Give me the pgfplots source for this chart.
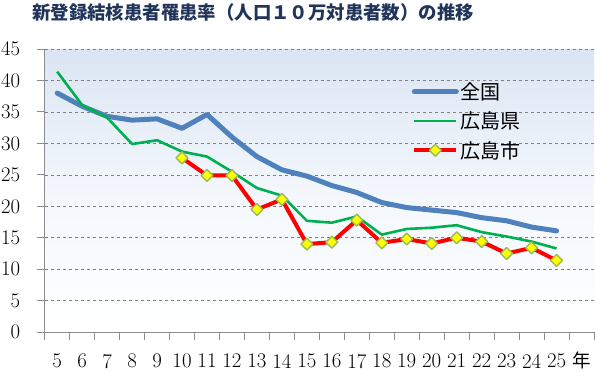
\documentclass[border=0pt]{standalone}
\usepackage{fontspec}
\usepackage{pgfplots}
\pgfplotsset{compat=1.18}
\newfontfamily\jpfont{Noto Sans CJK JP}
\definecolor{cblue}{RGB}{79,129,189}
\definecolor{cgreen}{RGB}{0,176,80}
\definecolor{cred}{RGB}{255,0,0}
\definecolor{cyellow}{RGB}{255,255,0}
\definecolor{cmark}{RGB}{155,187,89}
\definecolor{ctitle}{RGB}{33,52,90}
\definecolor{bgtop}{RGB}{219,229,243}
\definecolor{bgmid}{RGB}{243,247,252}
\pgfplotstableread{
x y
0 38.0
1 35.9
2 34.3
3 33.7
4 33.9
5 32.4
6 34.6
7 31.0
8 27.9
9 25.8
10 24.8
11 23.3
12 22.2
13 20.6
14 19.8
15 19.4
16 19.0
17 18.2
18 17.7
19 16.7
20 16.1
}\zenkoku
\pgfplotstableread{
x y
0 41.4
1 36.1
2 34.1
3 29.9
4 30.5
5 28.7
6 27.9
7 25.5
8 22.9
9 21.7
10 17.7
11 17.4
12 18.4
13 15.5
14 16.4
15 16.6
16 17.0
17 15.9
18 15.2
19 14.4
20 13.3
}\ken
\pgfplotstableread{
x y
5 27.7
6 24.9
7 24.9
8 19.5
9 21.1
10 14.0
11 14.3
12 17.8
13 14.2
14 14.8
15 14.1
16 15.0
17 14.4
18 12.5
19 13.4
20 11.4
}\shi
\begin{document}
\begin{tikzpicture}
\begin{axis}[
  scale only axis, width=549pt, height=283pt,
  xmin=-0.5, xmax=21.5, ymin=0, ymax=45,
  ytick={0,5,...,45},
  xtick={-0.5,0.5,...,21.5}, xticklabels={},
  extra x ticks={0,1,...,21},
  extra x tick labels={5,6,7,8,9,10,11,12,13,14,15,16,17,18,19,20,21,22,23,24,25,{\raisebox{0pt}[0.62em][0pt]{\jpfont\fontsize{18.5}{18.5}\selectfont 年}}},
  extra x tick style={major tick length=0pt, grid=none},
  major tick length=8pt,
  tick align=outside,
  axis x line*=bottom, axis y line*=left,
  axis line style={gray!90, line width=0.9pt},
  tick style={gray!90, line width=0.9pt},
  ymajorgrids, grid style={gray, dashed, line width=0.6pt},
  ticklabel style={font=\fontsize{20.8}{20.8}\selectfont},
  yticklabel style={xshift=-13pt},
  xticklabel style={yshift=-18.5pt},
  axis background/.style={top color=bgtop, bottom color=white, middle color=bgmid},
  legend style={at={(rel axis cs:0.668,0.89)}, anchor=north west, draw=none, fill=none,
    font=\jpfont\fontsize{20}{22}\selectfont, row sep=7pt, inner sep=0pt},
  legend cell align=left,
  legend image code/.code={\draw[mark repeat=2,mark phase=2,#1] plot coordinates {(0pt,0pt) (21pt,0pt) (42pt,0pt)};},
  clip=false,
]
\coordinate (bl) at (rel axis cs:0,0);
\coordinate (tl) at (rel axis cs:0,1);
\coordinate (tr) at (rel axis cs:1,1);
\addplot[cblue, line width=5pt, line join=round, line cap=round] table {\zenkoku};
\addlegendentry{全国}
\addplot[cgreen, line width=2.6pt, line join=round] table {\ken};
\addlegendentry{広島県}
\addplot[cred, line width=4pt, line join=round, mark=square*, mark size=4.2pt,
  mark options={rotate=45, fill=cyellow, draw=cmark, line width=1.4pt, solid}] table {\shi};
\addlegendentry{広島市}
\end{axis}
\node[anchor=west, inner sep=0pt, text=ctitle, font=\jpfont\bfseries\fontsize{18.4}{18.4}\selectfont] at ([shift={(-12.7pt,36.3pt)}]tl) {新登録結核患者罹患率（人口１０万対患者数）の推移};
\pgfresetboundingbox
\path ([shift={(-44.7pt,-39pt)}]bl) rectangle ([shift={(1pt,49pt)}]tr);
\end{tikzpicture}
\end{document}
